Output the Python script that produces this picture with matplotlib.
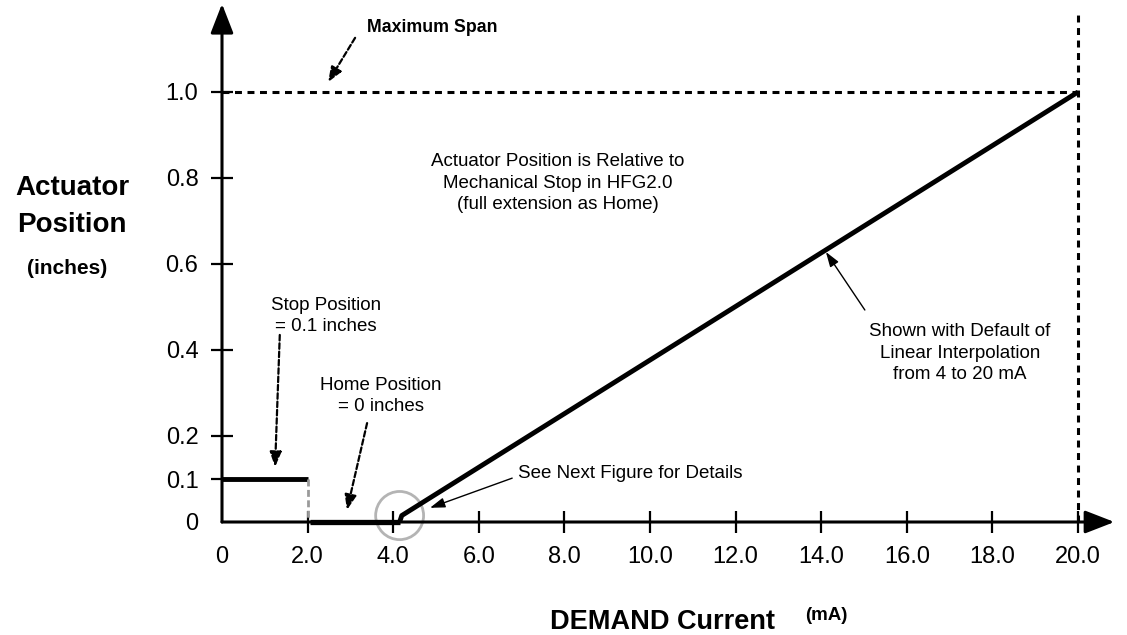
import matplotlib
matplotlib.use("Agg")
import matplotlib.pyplot as plt
from matplotlib.patches import Ellipse

plt.rcParams["font.family"] = ["Liberation Sans", "DejaVu Sans"]
plt.rcParams["lines.scale_dashes"] = False

# data
stop_x = [0.0, 2.0]
stop_y = [0.1, 0.1]
home_x = [2.05, 4.15]
home_y = [0.0, 0.0]
ramp_x = [4.15, 4.2, 20.0]
ramp_y = [0.0, 0.015, 1.0]
max_span = 1.0
max_current = 20.0

x_ticks = [0, 2, 4, 6, 8, 10, 12, 14, 16, 18, 20]
x_labels = ["0", "2.0", "4.0", "6.0", "8.0", "10.0", "12.0", "14.0", "16.0", "18.0", "20.0"]
y_ticks = [0, 0.1, 0.2, 0.4, 0.6, 0.8, 1.0]
y_labels = ["0", "0.1", "0.2", "0.4", "0.6", "0.8", "1.0"]

W, H = 1127, 635
fig = plt.figure(figsize=(W / 100, H / 100), dpi=100)

# axes placed so that x=0 sits at px 222 and y=0 at px 522
xmax, ymax = 20.85, 1.2
ax = fig.add_axes([222 / W, (H - 522) / H, xmax * 42.8 / W, ymax * 430 / H])
ax.set_xlim(0, xmax)
ax.set_ylim(0, ymax)
for s in ax.spines.values():
    s.set_visible(False)

# axes with arrow heads
arrow_kw = dict(arrowstyle="-|>,head_length=1.8,head_width=0.7", lw=2.2, color="black",
                shrinkA=0, shrinkB=0)
ax.annotate("", xy=(xmax, 0), xytext=(0, 0), arrowprops=arrow_kw, annotation_clip=False)
ax.annotate("", xy=(0, ymax + 0.005), xytext=(0, 0), arrowprops=arrow_kw, annotation_clip=False)

ax.set_xticks(x_ticks)
ax.set_xticklabels(x_labels)
ax.set_yticks(y_ticks)
ax.set_yticklabels(y_labels)
ax.tick_params(direction="inout", length=16, width=1.6, pad=9, labelsize=17)
ax.xaxis.get_major_ticks()[0].tick1line.set_visible(False)
ax.yaxis.get_major_ticks()[0].tick1line.set_visible(False)

# reference lines
ax.plot([0, max_current], [max_span, max_span], color="black", lw=2.2,
        dashes=(5, 4), clip_on=False)
ax.plot([max_current, max_current], [0, 1.18], color="black", lw=2.2,
        dashes=(5, 4), clip_on=False)

# position curve
ax.plot(stop_x, stop_y, color="black", lw=3.5, solid_capstyle="butt")
ax.plot([stop_x[-1], stop_x[-1]], [stop_y[-1], 0], color="#9a9a9a", lw=2, dashes=(5, 2.5))
ax.plot(home_x, home_y, color="black", lw=3.8, solid_capstyle="butt", clip_on=False)
ax.plot(ramp_x, ramp_y, color="black", lw=3.5, solid_capstyle="butt")

ax.add_patch(Ellipse((4.15, 0.015), 1.12, 0.112, fill=False, ec="#b4b4b4", lw=2, clip_on=False))

# annotations
dash_arrow = dict(arrowstyle="-|>,head_length=0.9,head_width=0.35", lw=1.6, color="black",
                  linestyle=(0, (4, 2)), shrinkA=0, shrinkB=0)
thin_arrow = dict(arrowstyle="-|>,head_length=0.9,head_width=0.3", lw=1.0, color="black",
                  shrinkA=0, shrinkB=0)

ax.text(3.39, 1.149, "Maximum Span", fontsize=12.8, fontweight="bold", ha="left", va="center")
ax.annotate("", xy=(2.48, 1.023), xytext=(3.11, 1.126), arrowprops=dash_arrow)

ax.text(2.43, 0.479, "Stop Position\n= 0.1 inches", fontsize=13.5, ha="center", va="center",
        linespacing=1.35)
ax.annotate("", xy=(1.24, 0.128), xytext=(1.35, 0.435), arrowprops=dash_arrow)

ax.text(3.72, 0.293, "Home Position\n= 0 inches", fontsize=13.5, ha="center", va="center",
        linespacing=1.35)
ax.annotate("", xy=(2.92, 0.028), xytext=(3.39, 0.23), arrowprops=dash_arrow)

ax.text(7.85, 0.788, "Actuator Position is Relative to\nMechanical Stop in HFG2.0\n(full extension as Home)",
        fontsize=13.5, ha="center", va="center", linespacing=1.35)

ax.text(17.24, 0.393, "Shown with Default of\nLinear Interpolation\nfrom 4 to 20 mA",
        fontsize=13.5, ha="center", va="center", linespacing=1.35)
ax.annotate("", xy=(14.11, 0.628), xytext=(15.02, 0.493), arrowprops=thin_arrow)

ax.text(6.92, 0.112, "See Next Figure for Details", fontsize=13.5, ha="left", va="center")
ax.annotate("", xy=(4.86, 0.033), xytext=(6.78, 0.102), arrowprops=thin_arrow)

# axis titles
fig.text(72 / W, 1 - 188 / H, "Actuator", fontsize=20, fontweight="bold", ha="center", va="center")
fig.text(72 / W, 1 - 225 / H, "Position", fontsize=20, fontweight="bold", ha="center", va="center")
fig.text(67 / W, 1 - 268 / H, "(inches)", fontsize=15, fontweight="bold", ha="center", va="center")
fig.text(662 / W, 1 - 622 / H, "DEMAND Current", fontsize=19.5, fontweight="bold", ha="center", va="center")
fig.text(826 / W, 1 - 615 / H, "(mA)", fontsize=13.5, fontweight="bold", ha="center", va="center")

fig.savefig("out.png", dpi=100)
